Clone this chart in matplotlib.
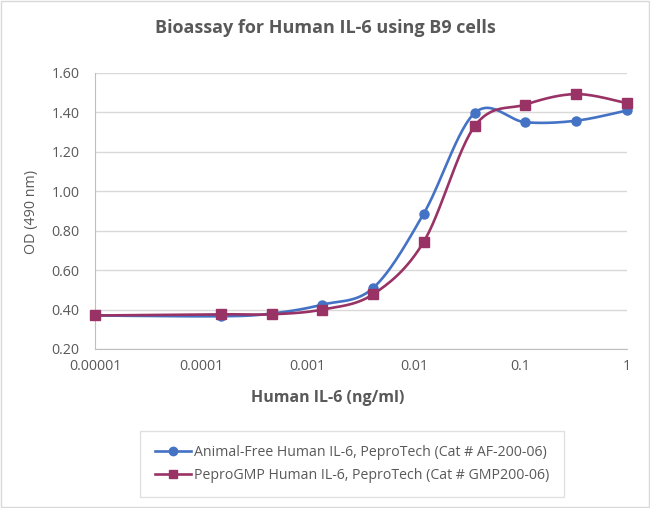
import numpy as np
import matplotlib
matplotlib.use("Agg")
import matplotlib.pyplot as plt
from matplotlib.lines import Line2D

plt.rcParams['font.family'] = ['Open Sans', 'DejaVu Sans']

# data
conc = [0.00001, 0.000152, 0.000457, 0.00137, 0.00412, 0.0123, 0.037, 0.111, 0.333, 1.0]
od_af = [0.37, 0.366, 0.38, 0.425, 0.51, 0.887, 1.397, 1.35, 1.358, 1.41]
od_gmp = [0.37, 0.376, 0.376, 0.40, 0.478, 0.744, 1.33, 1.44, 1.493, 1.447]
label_af = "Animal-Free Human IL-6, PeproTech (Cat # AF-200-06)"
label_gmp = "PeproGMP Human IL-6, PeproTech (Cat # GMP200-06)"
xticks = [0.00001, 0.0001, 0.001, 0.01, 0.1, 1]
xtick_labels = ["0.00001", "0.0001", "0.001", "0.01", "0.1", "1"]
yticks = [0.2, 0.4, 0.6, 0.8, 1.0, 1.2, 1.4, 1.6]

blue = "#4472C4"
purple = "#993366"
gray = "#595959"

fig = plt.figure(figsize=(6.5, 5.08), dpi=100)
ax = fig.add_axes([95 / 650, 1 - 349 / 508, 532 / 650, 276 / 508])
ax.set_xscale("log")
ax.set_xlim(1e-5, 1)
ax.set_ylim(0.2, 1.6)

# Excel-like smoothing: Catmull-Rom in screen space
W, H = 532.0, 276.0


def smooth(xs, ys, n=30):
    u = (np.log10(xs) + 5) / 5 * W
    v = (np.array(ys) - 0.2) / 1.4 * H
    pts = np.column_stack([u, v])
    pts = np.vstack([pts[0], pts, pts[-1]])
    out = []
    for i in range(1, len(pts) - 2):
        p0, p1, p2, p3 = pts[i - 1], pts[i], pts[i + 1], pts[i + 2]
        c1 = p1 + (p2 - p0) / 6
        c2 = p2 - (p3 - p1) / 6
        t = np.linspace(0, 1, n)[:, None]
        seg = ((1 - t) ** 3) * p1 + 3 * ((1 - t) ** 2) * t * c1 + 3 * (1 - t) * t ** 2 * c2 + t ** 3 * p2
        out.append(seg)
    out = np.vstack(out)
    return 10 ** (out[:, 0] / W * 5 - 5), out[:, 1] / H * 1.4 + 0.2


for ys, col, mk in [(od_af, blue, "o"), (od_gmp, purple, "s")]:
    sx, sy = smooth(conc, ys)
    ax.plot(sx, sy, color=col, lw=1.9, zorder=3, clip_on=False)
    ax.plot(conc, ys, ls="none", marker=mk, ms=6.5, color=col, zorder=4, clip_on=False)

ax.set_yticks(yticks)
ax.set_yticklabels(["%.2f" % y for y in yticks])
ax.set_xticks(xticks)
ax.set_xticklabels(xtick_labels)
ax.minorticks_off()
ax.tick_params(axis="both", length=0, labelsize=10.3, colors=gray)
ax.tick_params(axis="y", pad=11)
ax.tick_params(axis="x", pad=7)
ax.grid(axis="y", color="#D9D9D9", lw=1)
ax.set_axisbelow(True)
for s in ["top", "right"]:
    ax.spines[s].set_visible(False)
ax.spines["left"].set_color("#BFBFBF")
ax.spines["bottom"].set_color("#BFBFBF")

fig.text(0.5, 1 - 28 / 508, "Bioassay for Human IL-6 using B9 cells", ha="center", va="center",
         fontsize=13, fontweight="bold", color=gray)
fig.text(328 / 650, 1 - 398 / 508, "Human IL-6 (ng/ml)", ha="center", va="center",
         fontsize=11.5, fontweight="bold", color=gray)
fig.text(32 / 650, 1 - 212 / 508, "OD (490 nm)", ha="center", va="center", rotation=90,
         fontsize=10.3, color=gray)

handles = [Line2D([], [], color=blue, lw=1.9, marker="o", ms=6),
           Line2D([], [], color=purple, lw=1.9, marker="s", ms=6)]
leg = fig.legend(handles, [label_af, label_gmp], loc="center", bbox_to_anchor=(352 / 650, 1 - 464 / 508),
                 fontsize=10.2, frameon=True, fancybox=False, edgecolor="#D9D9D9", handlelength=2.6,
                 labelspacing=0.55, borderpad=1.0, borderaxespad=0, handletextpad=0.2)
leg.get_frame().set_linewidth(1)
for t in leg.get_texts():
    t.set_color(gray)

fig.patches.append(plt.Rectangle((0.001, 0.001), 0.998, 0.998, transform=fig.transFigure,
                                 fill=False, edgecolor="#D9D9D9", lw=1))

fig.savefig("out.png", dpi=100)
